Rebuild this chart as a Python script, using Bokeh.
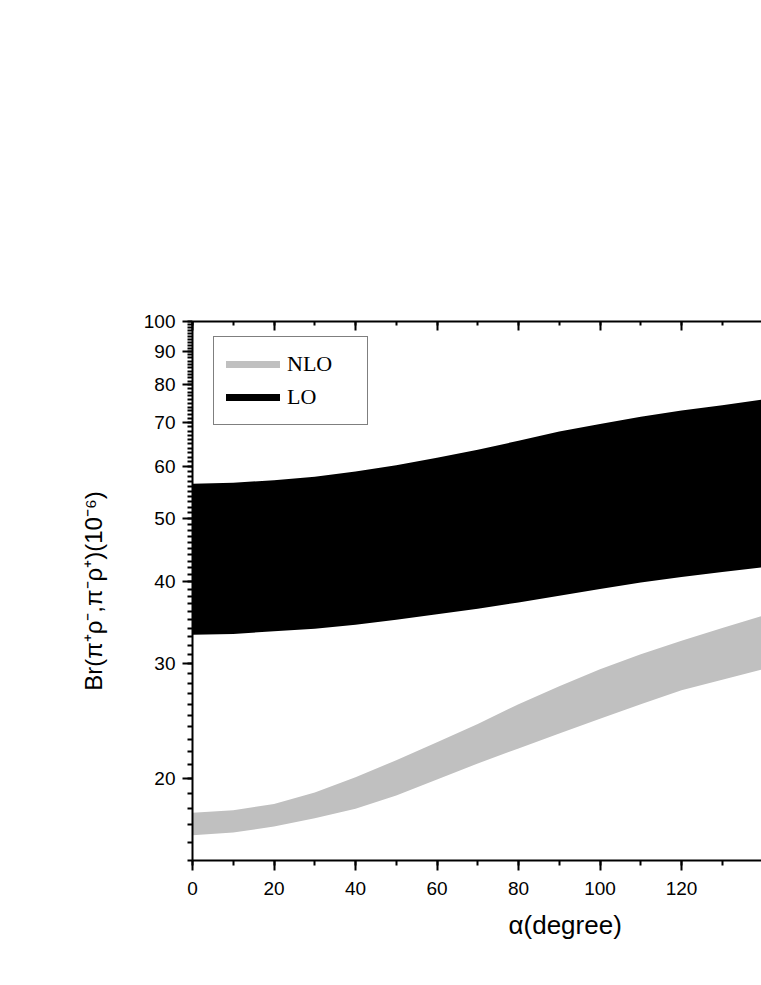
from bokeh.plotting import figure
from bokeh.models import (Range1d, LinearAxis, FixedTicker, PrintfTickFormatter,
                          CustomJSTickFormatter, Legend, LegendItem, Title)
from bokeh.embed import file_html
from bokeh.resources import INLINE

# ---- data ----
alpha = [0, 10, 20, 30, 40, 50, 60, 70, 80, 90, 100, 110, 120, 130, 140]
lo_upper = [56.5, 56.7, 57.2, 57.9, 59.0, 60.3, 61.9, 63.7, 65.7, 67.9, 69.7, 71.5, 73.1, 74.5, 76.0]
lo_lower = [33.2, 33.3, 33.6, 33.9, 34.4, 35.0, 35.7, 36.4, 37.2, 38.1, 39.0, 39.9, 40.7, 41.4, 42.1]
nlo_upper = [17.75, 17.9, 18.3, 19.05, 20.1, 21.35, 22.75, 24.25, 26.0, 27.7, 29.4, 31.0, 32.5, 34.0, 35.5]
nlo_lower = [16.4, 16.55, 16.9, 17.4, 18.0, 18.85, 19.95, 21.1, 22.25, 23.45, 24.7, 26.0, 27.3, 28.35, 29.4]

x_major = [0, 20, 40, 60, 80, 100, 120, 140, 160, 180]
x_minor = list(range(0, 181, 10))
y_major = [20, 30, 40, 50, 60, 70, 80, 90, 100]
y_minor = list(range(15, 101))

series_names = ["NLO", "LO"]
series_colors = ["#c0c0c0", "#000000"]

x_label = "α(degree)"
y_label = "Br(π⁺ρ⁻,π⁻ρ⁺)(10⁻⁶)"

SANS = "Liberation Sans"
SERIF = "Liberation Serif"
NAN = float("nan")

p = figure(frame_width=569, frame_height=539,
           min_border_left=192, min_border_right=0,
           min_border_top=321, min_border_bottom=120,
           x_range=Range1d(0, 139.63), y_range=Range1d(15, 100),
           y_axis_type="log", output_backend="svg", toolbar_location=None)
p.outline_line_color = None
p.xgrid.visible = False
p.ygrid.visible = False
p.background_fill_color = "white"
p.border_fill_color = "white"

# bands
p.varea(x=alpha, y1=nlo_lower, y2=nlo_upper, fill_color=series_colors[0])
p.varea(x=alpha, y1=lo_lower, y2=lo_upper, fill_color=series_colors[1])

# legend proxies (lines with no visible points)
leg_nlo = p.line(x=[NAN], y=[NAN], line_color=series_colors[0], line_width=7, line_cap="round")
leg_lo = p.line(x=[NAN], y=[NAN], line_color=series_colors[1], line_width=7, line_cap="round")

# bottom axis
xa = p.xaxis[0]
xa.ticker = FixedTicker(ticks=x_major, minor_ticks=x_minor)
xa.axis_line_width = 2
xa.major_tick_line_width = 2
xa.minor_tick_line_width = 2
xa.major_tick_out = 10
xa.major_tick_in = 0
xa.minor_tick_out = 5
xa.minor_tick_in = 0
xa.major_label_text_font = SANS
xa.major_label_text_font_size = "19px"
xa.major_label_text_color = "black"
xa.major_label_standoff = 11

# left axis
ya = p.yaxis[0]
ya.ticker = FixedTicker(ticks=y_major, minor_ticks=y_minor)
ya.formatter = PrintfTickFormatter(format="%d")
ya.axis_line_width = 2
ya.major_tick_line_width = 2
ya.minor_tick_line_width = 2
ya.major_tick_out = 10
ya.major_tick_in = 0
ya.minor_tick_out = 5
ya.minor_tick_in = 0
ya.major_label_text_font = SANS
ya.major_label_text_font_size = "19px"
ya.major_label_text_color = "black"
ya.major_label_standoff = 7
ya.axis_label = y_label
ya.axis_label_text_font = SANS
ya.axis_label_text_font_size = "24px"
ya.axis_label_text_font_style = "normal"
ya.axis_label_text_color = "black"
ya.axis_label_standoff = 34

# top axis (ticks inside, no labels)
ta = LinearAxis(ticker=FixedTicker(ticks=x_major, minor_ticks=x_minor),
                formatter=CustomJSTickFormatter(code="return ''"))
ta.axis_line_width = 2
ta.major_tick_line_width = 2
ta.minor_tick_line_width = 2
ta.major_tick_in = 9
ta.major_tick_out = 0
ta.minor_tick_in = 4
ta.minor_tick_out = 0
p.add_layout(ta, "above")

# x axis label placed like the reference
xt = Title(text=x_label, align="left", offset=316, standoff=20,
           text_font=SANS, text_font_size="26px", text_font_style="normal",
           text_color="black")
p.add_layout(xt, "below")

legend = Legend(items=[LegendItem(label=series_names[0], renderers=[leg_nlo]),
                       LegendItem(label=series_names[1], renderers=[leg_lo])],
                location=(21, 435))
legend.border_line_color = "black"
legend.border_line_width = 1
legend.background_fill_alpha = 1
legend.padding = 12
legend.spacing = 3
legend.margin = 0
legend.glyph_width = 54
legend.glyph_height = 30
legend.label_height = 30
legend.label_width = 68
legend.label_standoff = 7
legend.label_text_font = SERIF
legend.label_text_font_size = "22px"
legend.label_text_color = "black"
p.add_layout(legend)

open("out.html", "w").write(file_html(p, INLINE))
